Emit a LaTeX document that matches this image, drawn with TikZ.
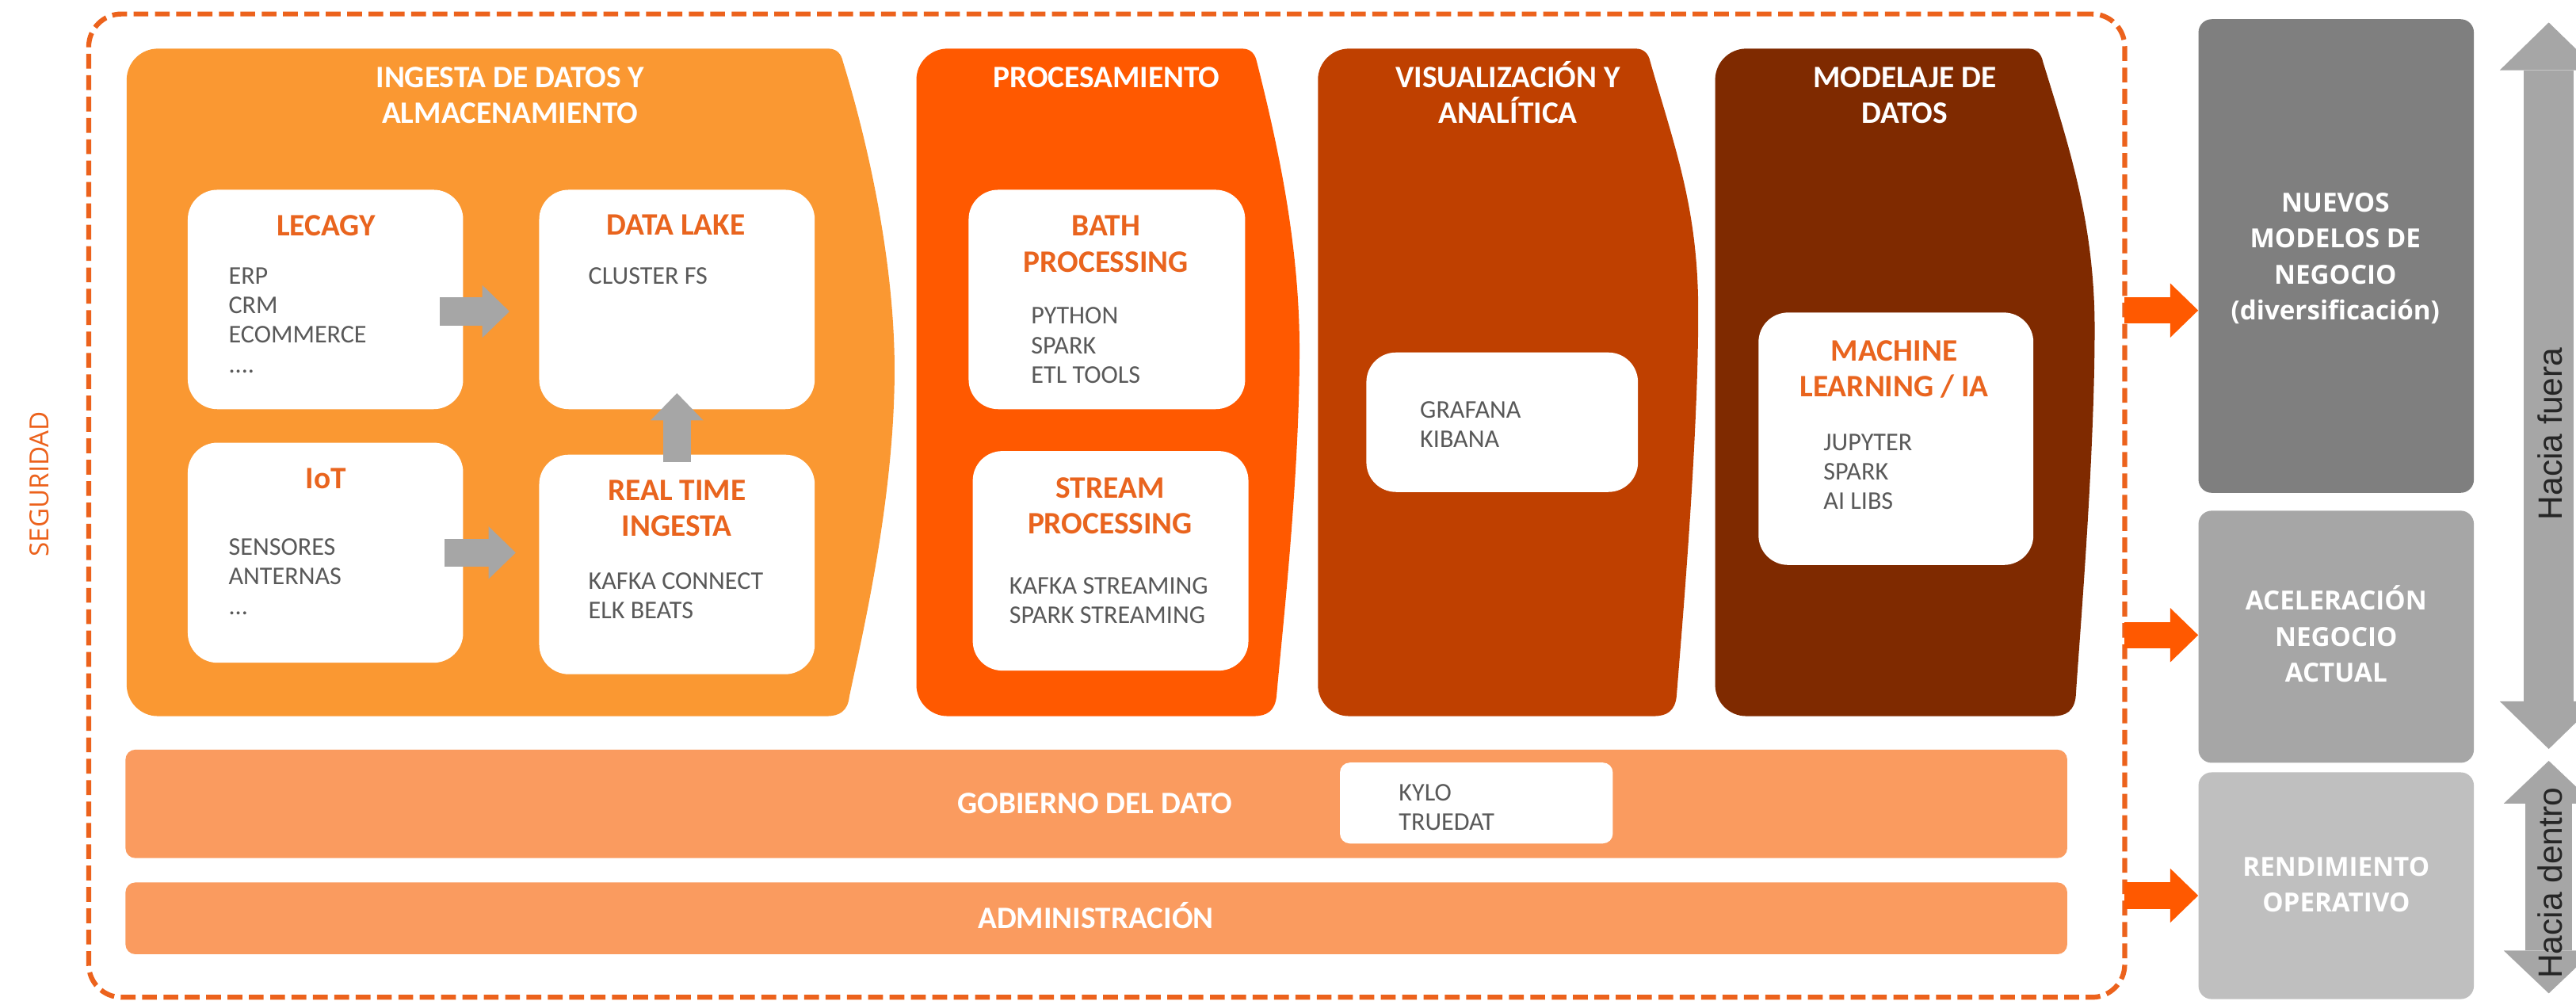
\documentclass[tikz,border=0pt]{standalone}
\usepackage{fontspec}
\setmainfont{Carlito}
\newfontfamily\osans{Open Sans}
\newfontfamily\lsans{Liberation Sans}
\usetikzlibrary{arrows.meta}

\definecolor{pone}{RGB}{250,152,50}
\definecolor{ptwo}{RGB}{255,89,0}
\definecolor{pthree}{RGB}{191,64,0}
\definecolor{pfour}{RGB}{127,42,0}
\definecolor{barc}{RGB}{250,155,95}
\definecolor{bord}{RGB}{236,98,28}
\definecolor{otxt}{RGB}{233,100,30}
\definecolor{gtxt}{RGB}{89,89,89}
\definecolor{agray}{RGB}{166,166,166}
\definecolor{oarr}{RGB}{255,89,0}
\definecolor{gone}{RGB}{127,127,127}
\definecolor{gtwo}{RGB}{166,166,166}
\definecolor{gthree}{RGB}{191,191,191}
\definecolor{dgray}{RGB}{166,166,166}
\definecolor{vtc}{RGB}{38,38,38}

% #1 left, #2 top, #3 bottom, #4 top-right x, #5 bulge x, #6 bulge y, #7 bottom-right x, #8 colour
\newcommand{\panelshape}[8]{%
  \fill[#8] ({#1},{#2+19}) .. controls ({#1},{#2+8.5}) and ({#1+8.5},{#2}) .. ({#1+19},{#2})
    -- ({#4-7},{#2}) .. controls ({#4-2},{#2}) and ({#4+1},{#2+3}) .. ({#4+2},{#2+8})
    .. controls ({#4+0.55*(#5-#4)},{#2+61}) and ({#5},{#6-63}) .. ({#5},{#6})
    .. controls ({#5},{#6+80}) and ({#7+0.3*(#5-#7)},{#3-45}) .. ({#7+2},{#3-12})
    .. controls ({#7+1},{#3-3}) and ({#7-4},{#3}) .. ({#7-12},{#3})
    -- ({#1+19},{#3}) .. controls ({#1+8.5},{#3}) and ({#1},{#3-8.5}) .. ({#1},{#3-19}) -- cycle;}

\begin{document}
\begin{tikzpicture}[x=1pt,y=-1pt,
  wbox/.style={fill=white, rounded corners=18pt, inner sep=0pt},
  gbox/.style={rounded corners=8pt, inner sep=0pt, minimum width=167.6pt},
  ptitle/.style={text=white, font=\fontsize{19}{21.8}\selectfont\bfseries, align=center, inner sep=0pt, anchor=north},
  btitle/.style={text=otxt, font=\fontsize{19}{22}\selectfont\bfseries, align=center, inner sep=0pt, anchor=north},
  items/.style={text=gtxt, font=\fontsize{15.5}{18}\selectfont, align=left, inner sep=0pt, anchor=north west},
  rtitle/.style={text=white, font=\osans\fontsize{16}{21.8}\selectfont\bfseries, align=center, inner sep=0pt, anchor=north},
  bartxt/.style={text=white, font=\fontsize{19}{22}\selectfont\bfseries, inner sep=0pt},
  garrow/.style={draw=agray, line width=16.9pt, -{Triangle[length=16.5pt,width=32pt,line width=0pt]}},
  oarrow/.style={draw=oarr, line width=16pt, -{Triangle[length=17pt,width=33pt,line width=0pt]}},
  vtxt/.style={text=vtc, font=\lsans\fontsize{20.5}{24}\selectfont, rotate=90, inner sep=0pt}
]
\fill[white] (0,0) rectangle (1568,609);
\useasboundingbox (0,0) rectangle (1568,609);

% security frame
\node[draw=bord, line width=3pt, dash pattern=on 9pt off 4pt, rounded corners=20pt,
      minimum width=1239.3pt, minimum height=598.4pt, inner sep=0pt] (sec) at (673.65,307.7) {};
\node[text=bord, font=\osans\fontsize{16}{19}\selectfont, rotate=90, inner sep=0pt] (seg) at (24,294.5) {SEGURIDAD};

% panels
\panelshape{77.1}{29.6}{435.8}{511.1}{544.5}{225}{515}{pone}
\panelshape{557.8}{29.6}{435.8}{763}{791}{213}{775}{ptwo}
\panelshape{802.2}{29.6}{435.8}{1002.5}{1033.7}{190}{1018.5}{pthree}
\panelshape{1044}{29.6}{435.8}{1241.5}{1275}{200}{1261.5}{pfour}

\node[ptitle] (p1t) at (310.5,40.7) {INGESTA DE DATOS Y\\ALMACENAMIENTO};
\node[ptitle] (p2t) at (673.5,40.7) {PROCESAMIENTO};
\node[ptitle] (p3t) at (917.8,40.7) {VISUALIZACI\smash{Ó}N Y\\ANALÍTICA};
\node[ptitle] (p4t) at (1159.4,40.7) {MODELAJE DE\\DATOS};

% white boxes
\node[wbox, minimum width=167.6pt, minimum height=133.5pt] (lec) at (198.1,182.25) {};
\node[wbox, minimum width=167.7pt, minimum height=133.5pt] (dl) at (412.05,182.25) {};
\node[wbox, minimum width=167.6pt, minimum height=133.9pt] (iot) at (198.1,336.35) {};
\node[wbox, minimum width=167.7pt, minimum height=133.6pt] (rt) at (412.05,343.5) {};
\node[wbox, minimum width=168.3pt, minimum height=133.5pt] (bath) at (673.75,182.25) {};
\node[wbox, minimum width=167.8pt, minimum height=133.6pt] (strm) at (676,341.3) {};
\node[wbox, minimum width=165.3pt, minimum height=84.9pt] (viz) at (914.35,256.95) {};
\node[wbox, minimum width=167.3pt, minimum height=153.6pt] (ml) at (1154.05,267) {};

\node[btitle] (lect) at (198.5,130.7) {LECAGY};
\node[btitle] (dlt) at (411.4,130.7) {DATA LAKE};
\node[btitle] (iott) at (198.4,284.9) {IoT};
\node[btitle] (rtt) at (412,292) {REAL TIME\\INGESTA};
\node[btitle] (batht) at (673.2,131.2) {BATH\\PROCESSING};
\node[btitle] (strmt) at (675.7,290.3) {STREAM\\PROCESSING};
\node[btitle] (mlt) at (1153,206.8) {MACHINE\\LEARNING / IA};

\node[items] (leci) at (139,162.6) {ERP\\CRM\\ECOMMERCE\\....};
\node[items] (dli) at (358,162.6) {CLUSTER FS};
\node[items] (ioti) at (139,327.6) {SENSORES\\ANTERNAS\\...};
\node[items] (rti) at (358,348.3) {KAFKA CONNECT\\ELK BEATS};
\node[items] (bathi) at (627.5,187) {PYTHON\\SPARK\\ETL TOOLS};
\node[items] (strmi) at (614.2,351.1) {KAFKA STREAMING\\SPARK STREAMING};
\node[items] (vizi) at (864.2,244.1) {GRAFANA\\KIBANA};
\node[items] (mli) at (1109.8,263.9) {JUPYTER\\SPARK\\AI LIBS};

% bars
\node[fill=barc, rounded corners=6pt, minimum width=1181.9pt, minimum height=66pt, inner sep=0pt] (gob) at (667.35,489.2) {};
\node[fill=barc, rounded corners=6pt, minimum width=1181.9pt, minimum height=43.7pt, inner sep=0pt] (adm) at (667.35,558.85) {};
\node[bartxt] (gobt) at (666.5,488.9) {GOBIERNO DEL DATO};
\node[bartxt] (admt) at (667,558.7) {ADMINISTRACI\smash{Ó}N};
\node[fill=white, rounded corners=6pt, minimum width=166.1pt, minimum height=49.2pt, inner sep=0pt] (kylo) at (898.65,488.7) {};
\node[items] (kyloi) at (851.3,477.1) {KYLO\\TRUEDAT};

% internal arrows
\draw[garrow, shorten <=-14.3pt, shorten >=17.9pt] ([yshift=-7.3pt]lec.east) -- ([yshift=-7.3pt]dl.west);
\draw[garrow, shorten <=-11.3pt, shorten >=14.1pt] (iot.east) -- (iot.east -| rt.west);
\draw[garrow, shorten <=-4.9pt, shorten >=-9.9pt] (rt.north) -- (rt.north |- dl.south);

% right boxes
\node[gbox, fill=gone, minimum height=288.2pt] (nb) at (1422,155.8) {};
\node[gbox, fill=gtwo, minimum height=153.4pt] (ab) at (1422,387.5) {};
\node[gbox, fill=gthree, minimum height=138pt] (rb) at (1422,539) {};
\node[rtitle] (nbt) at (1421.5,117.3) {NUEVOS\\MODELOS DE\\NEGOCIO\\(diversificación)};
\node[rtitle] (abt) at (1422,359.5) {ACELERACI\smash{Ó}N\\NEGOCIO\\ACTUAL};
\node[rtitle] (rbt) at (1422,521.5) {RENDIMIENTO\\OPERATIVO};

% orange arrows
\coordinate (o1) at (1293.3,188.9);
\coordinate (o2) at (1293.3,386.5);
\coordinate (o3) at (1293.3,545);
\draw[oarrow] (o1) -- (o1 -| nb.west);
\draw[oarrow] (o2) -- (o2 -| ab.west);
\draw[oarrow] (o3) -- (o3 -| rb.west);

% double arrows
\coordinate (fu1) at (1551.4,455.8);
\coordinate (fu2) at (1551.4,13.7);
\coordinate (de1) at (1551.4,604.5);
\coordinate (de2) at (1551.4,463);
\draw[draw=dgray, line width=30.6pt, {Triangle[length=29pt,width=59.6pt,line width=0pt]}-{Triangle[length=29pt,width=59.6pt,line width=0pt]}] (fu1) -- (fu2);
\draw[draw=dgray, line width=28.4pt, {Triangle[length=26pt,width=54.8pt,line width=0pt]}-{Triangle[length=26pt,width=54.8pt,line width=0pt]}] (de1) -- (de2);
\node[vtxt] (fut) at (1552,264) {Hacia fuera};
\node[vtxt] (det) at (1552,537.4) {Hacia dentro};
\end{tikzpicture}
\end{document}
